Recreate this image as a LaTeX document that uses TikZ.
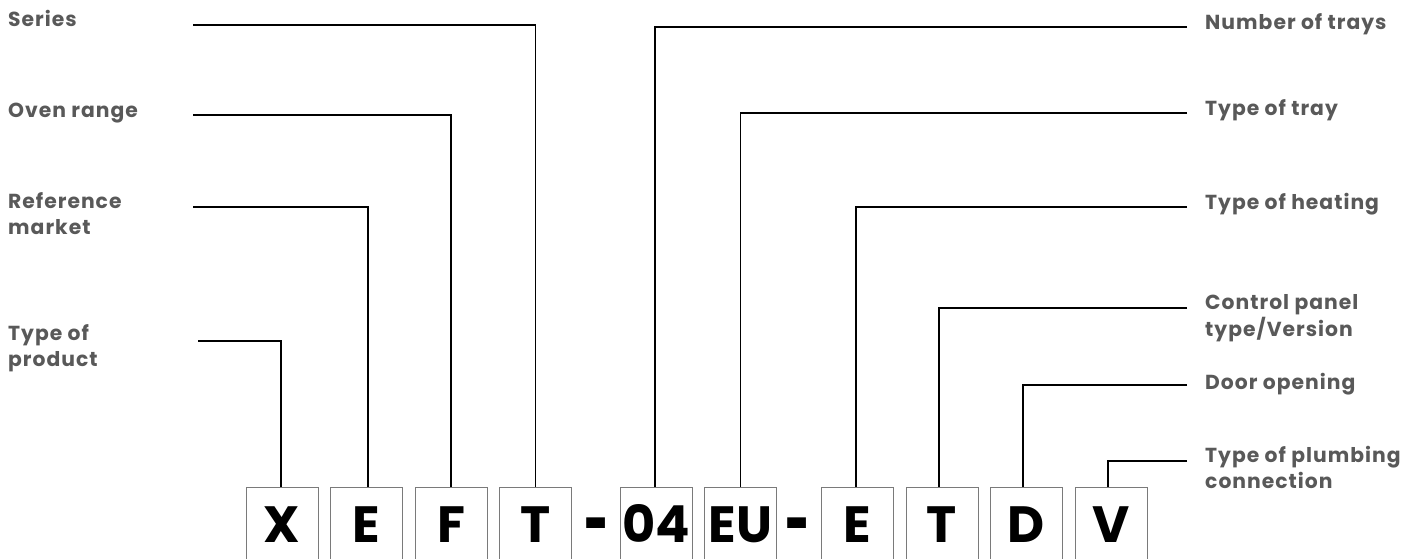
\documentclass[tikz,border=0pt]{standalone}
\usepackage{fontspec}
\setmainfont{Poppins}
\newfontfamily\capfont{Poppins}[LetterSpace=5]
\definecolor{labelgrey}{HTML}{595959}
\definecolor{boxgrey}{HTML}{7A7A7A}
\tikzset{
  codebox/.style={draw=boxgrey, line width=0.9pt, minimum width=72pt, minimum height=100pt, inner sep=0pt, anchor=north},
  codeletter/.style={inner sep=0pt, anchor=base, font=\fontsize{51}{51}\selectfont\bfseries, text=black},
  codedash/.style={inner sep=0pt, anchor=base, font=\fontsize{50}{50}\selectfont\bfseries, text=black},
  caption/.style={inner sep=0pt, anchor=base west, text=labelgrey, font=\capfont\fontsize{20.3}{26}\selectfont\bfseries},
  conn/.style={draw=black, line width=1.4pt}
}
\newcommand{\twolines}[2]{\begin{tabular}[t]{@{}l@{}}#1\\#2\end{tabular}}
\begin{document}
\begin{tikzpicture}[x=1pt, y=-1pt]
\clip (0,0) rectangle (1425,558);
\fill[white] (0,0) rectangle (1425,558);

% code boxes
\foreach \n/\cx in {bX/282, bE/366.5, bF/451, bT/535.5, bN/656, bU/740.5, bH/857, bC/942, bD/1026, bV/1111}
  \node[codebox] (\n) at (\cx,487) {};

% code characters
\node[codeletter] (tX) at ([yshift=-55pt]bX.north) {X};
\node[codeletter] (tE) at ([yshift=-55pt]bE.north) {E};
\node[codeletter] (tF) at ([yshift=-55pt]bF.north) {F};
\node[codeletter] (tT) at ([yshift=-55pt]bT.north) {T};
\node[codeletter] (tN) at ([yshift=-55pt]bN.north) {04};
\node[codeletter] (tU) at ([yshift=-55pt]bU.north) {EU};
\node[codeletter] (tH) at ([yshift=-55pt]bH.north) {E};
\node[codeletter] (tC) at ([yshift=-55pt]bC.north) {T};
\node[codeletter] (tD) at ([yshift=-55pt]bD.north) {D};
\node[codeletter] (tV) at ([yshift=-55pt]bV.north) {V};
% separators, thickened hyphens sitting at mid-letter height
\node[codedash] (d1) at (597,549) {\scalebox{0.85}[1.5]{-}};
\node[codedash] (d2) at (798,549) {\scalebox{0.85}[1.5]{-}};

% captions, left column
\node[caption] (lSeries) at (8,26) {Series};
\node[caption] (lRange)  at (8,117) {Oven range};
\node[caption] (lMarket) at (8,208) {\twolines{Reference}{market}};
\node[caption] (lProd)   at (8,340) {\twolines{Type of}{product}};

% captions, right column
\node[caption] (rTrays)  at (1205,29) {Number of trays};
\node[caption] (rTray)   at (1205,115) {Type of tray};
\node[caption] (rHeat)   at (1205,209) {Type of heating};
\node[caption] (rPanel)  at (1205,309) {\twolines{Control panel}{type/Version}};
\node[caption] (rDoor)   at (1205,389) {Door opening};
\node[caption] (rPlumb)  at (1205,462) {\twolines{Type of plumbing}{connection}};

% leader starts
\coordinate (cSeries) at (193,25);
\coordinate (cRange)  at (193,115);
\coordinate (cMarket) at (193,207);
\coordinate (cProd)   at (198,341);
\coordinate (cTrays)  at (1187,27);
\coordinate (cTray)   at (1187,113);
\coordinate (cHeat)   at (1187,207);
\coordinate (cPanel)  at (1187,308);
\coordinate (cDoor)   at (1187,385);
\coordinate (cPlumb)  at (1187,461);

% leaders
\draw[conn] (cSeries) -| (bT.north);
\draw[conn] (cRange)  -| (bF.north);
\draw[conn] (cMarket) -| ([xshift=1.5pt]bE.north);
\draw[conn] (cProd)   -| ([xshift=-1pt]bX.north);
\draw[conn] (cTrays)  -| ([xshift=-1pt]bN.north);
\draw[conn] (cTray)   -| (bU.north);
\draw[conn] (cHeat)   -| ([xshift=-1pt]bH.north);
\draw[conn] (cPanel)  -| ([xshift=-3pt]bC.north);
\draw[conn] (cDoor)   -| ([xshift=-3pt]bD.north);
\draw[conn] (cPlumb)  -| ([xshift=-3pt]bV.north);
\end{tikzpicture}
\end{document}
